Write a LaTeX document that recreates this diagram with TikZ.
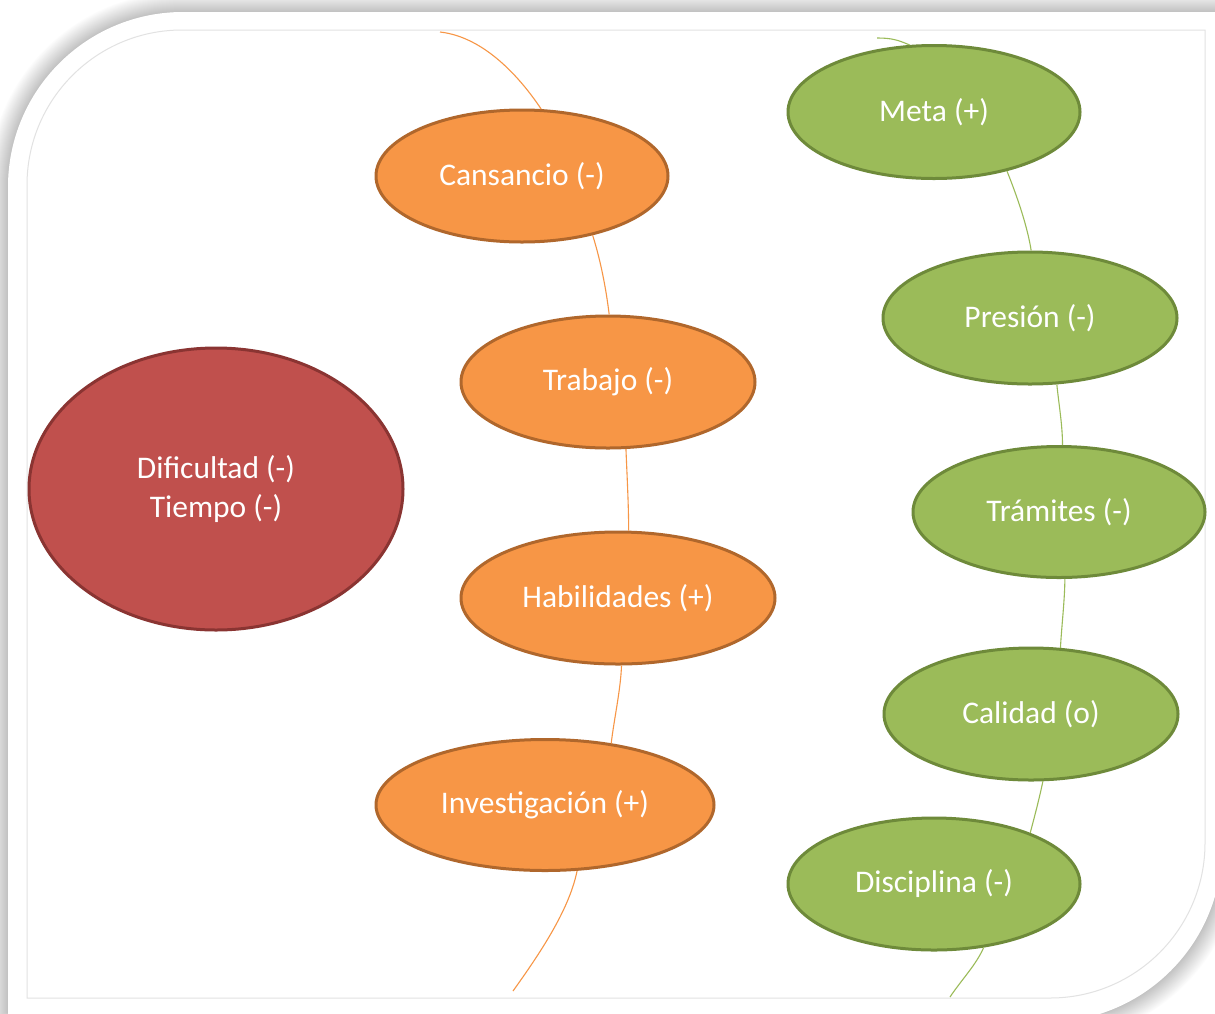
\documentclass[tikz,border=0pt]{standalone}
\usepackage{fontspec}
\setmainfont{Carlito}
\usetikzlibrary{shapes.geometric}
\definecolor{orfill}{HTML}{F79646}
\definecolor{ordraw}{HTML}{B0672C}
\definecolor{grfill}{HTML}{9BBB59}
\definecolor{grdraw}{HTML}{6E8A3A}
\definecolor{rdfill}{HTML}{C0504D}
\definecolor{rddraw}{HTML}{8A3432}
\definecolor{frameline}{HTML}{E2E2E2}
\begin{document}
\begin{tikzpicture}[x=1pt,y=-1pt,
  bub/.style={ellipse, inner sep=0pt, line width=3pt, text=white, align=center,
    font=\fontsize{31.5}{39}\selectfont},
  orbub/.style={bub, fill=orfill, draw=ordraw},
  grbub/.style={bub, fill=grfill, draw=grdraw},
  rdbub/.style={bub, fill=rdfill, draw=rddraw},
  orlink/.style={draw=orfill, line width=1.1pt},
  grlink/.style={draw=grfill, line width=1.1pt}]
\useasboundingbox (0,0) rectangle (1215,1013);
\fill[white] (0,0) rectangle (1215,1013);
% soft shadow of the card
\foreach \w in {2,4,...,40}{
  \draw[line width=\w pt, draw=black, draw opacity=0.01]
    (8,1060) -- (8,187) .. controls (8,90.35) and (86.35,12) .. (183,12)
    -- (1222,12) -- (1222,847) .. controls (1222,943.65) and (1143.65,1022) .. (1047,1022)
    -- (-40,1022) -- cycle;
}
% card
\fill[white] (8,1060) -- (8,187) .. controls (8,90.35) and (86.35,12) .. (183,12)
    -- (1222,12) -- (1222,847) .. controls (1222,943.65) and (1143.65,1022) .. (1047,1022)
    -- (-40,1022) -- cycle;
% inner frame
\draw[frameline, line width=1pt] (27,998) -- (27,185) .. controls (27,99.4) and (96.4,30) .. (182,30)
    -- (1205,30) -- (1205,843) .. controls (1205,928.6) and (1135.6,998) .. (1050,998) -- cycle;

% nodes
\node[orbub, minimum width=292pt, minimum height=132pt] (cans) at (522,176) {\raisebox{-2pt}{Cansancio (-)}};
\node[orbub, minimum width=294pt, minimum height=132pt] (trab) at (608,382) {\raisebox{-2pt}{Trabajo (-)}};
\node[orbub, minimum width=314pt, minimum height=132pt] (habi) at (618,598) {\raisebox{-2pt}{Habilidades (+)}};
\node[orbub, minimum width=338pt, minimum height=131pt] (inve) at (545,805) {\raisebox{-2pt}{Investigación (+)}};
\node[rdbub, minimum width=374pt, minimum height=282pt] (difi) at (216,489) {\raisebox{-2pt}{Dificultad (-)}\\\raisebox{-2pt}{Tiempo (-)}};
\node[grbub, minimum width=292pt, minimum height=133pt] (meta) at (934,112) {\raisebox{-2pt}{Meta (+)}};
\node[grbub, minimum width=294pt, minimum height=132pt] (pres) at (1030,318) {\raisebox{-2pt}{Presión (-)}};
\node[grbub, minimum width=292pt, minimum height=131pt] (tram) at (1059,512) {\raisebox{-2pt}{Trámites (-)}};
\node[grbub, minimum width=294pt, minimum height=132pt] (cali) at (1031,714) {\raisebox{-2pt}{Calidad (o)}};
\node[grbub, minimum width=292pt, minimum height=132pt] (disc) at (934,884) {\raisebox{-2pt}{Disciplina (-)}};

% free ends
\coordinate (otop) at (440,32);
\coordinate (obot) at (513,991);
\coordinate (gtop) at (877,38);
\coordinate (gbot) at (950,997);

% orange chain
\draw[orlink] (otop) .. controls +(45,5) and +(-20,-30) .. (cans.74);
\draw[orlink] (cans.-40) .. controls +(8,25) and +(-3,-25) .. (trab.89);
\draw[orlink] (trab.-75) .. controls +(1,25) and +(0,-25) .. (habi.81);
\draw[orlink] (habi.-87) .. controls +(-1,25) and +(3,-25) .. (inve.43);
\draw[orlink] (inve.-64) .. controls +(-8,40) and +(25,-35) .. (obot);
% green chain
\draw[grlink] (gtop) .. controls +(15,0) and +(-12,-5) .. (meta.110);
\draw[grlink] (meta.-39) .. controls +(10,25) and +(-4,-25) .. (pres.89);
\draw[grlink] (pres.-68) .. controls +(2,20) and +(0,-20) .. (tram.87);
\draw[grlink] (tram.-85) .. controls +(0,20) and +(1,-20) .. (cali.66);
\draw[grlink] (cali.-80) .. controls +(-3,15) and +(4,-15) .. (disc.28);
\draw[grlink] (disc.-52) .. controls +(-8,18) and +(12,-18) .. (gbot);
\end{tikzpicture}
\end{document}
